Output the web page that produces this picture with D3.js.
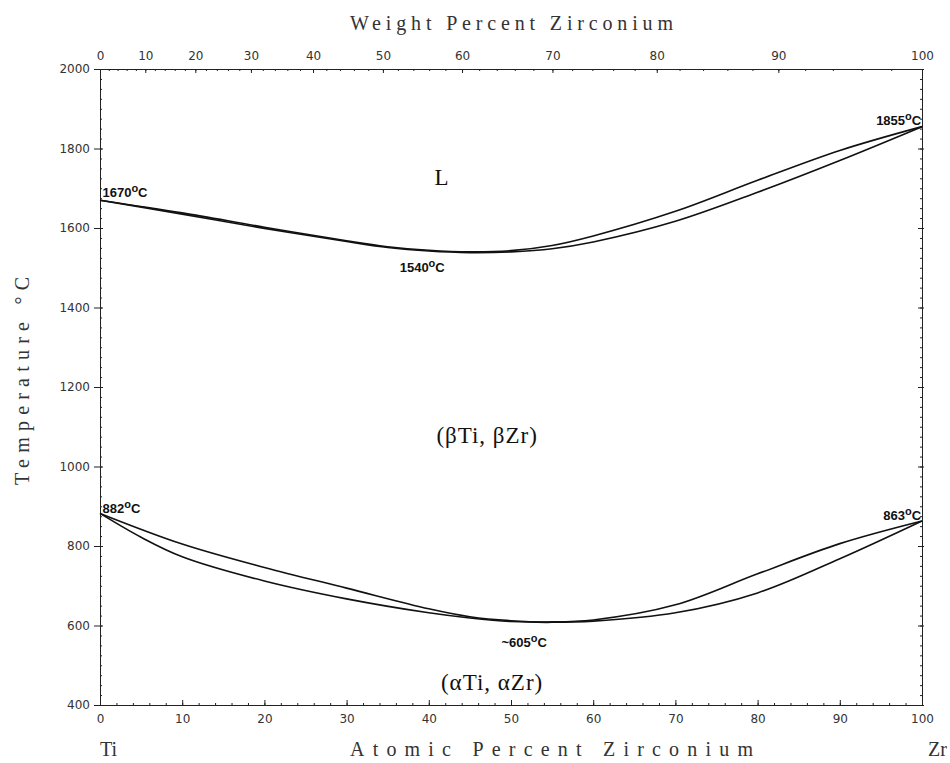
<!DOCTYPE html>
<meta charset='utf-8'>
<style>
body { margin: 0; background: #fff; }
svg { display: block; }
.axis path, .axis line { stroke: #222; }
.axis text { font-family: 'DejaVu Sans', sans-serif; font-size: 12px; fill: #333; }
.title { font-family: 'Liberation Serif', serif; font-size: 20px; fill: #333; }
.phase { font-family: 'Liberation Serif', serif; font-size: 23px; fill: #111; letter-spacing: 1px; }
.note { font-family: 'Liberation Sans', sans-serif; font-size: 13px; font-weight: bold; fill: #111; }
.curve { fill: none; stroke: #111; stroke-width: 1.6; }
</style>
<svg width='950' height='763'></svg>
<script src='https://d3js.org/d3.v7.min.js'></script>
<script>

// atomic percent Zr vs temperature (deg C)
var liqAt   = [0, 10, 20, 30, 35, 40, 45, 50, 55, 60, 70, 80, 90, 100];
var liqT    = [1670, 1638, 1602, 1568, 1553, 1544, 1540, 1543, 1556, 1580, 1642, 1720, 1795, 1855];
var solAt   = [0, 10, 20, 30, 35, 40, 45, 50, 55, 60, 70, 80, 90, 100];
var solT    = [1670, 1635, 1599, 1566, 1551, 1542, 1538, 1540, 1548, 1565, 1617, 1690, 1770, 1855];
var betaAt  = [0, 10, 20, 30, 40, 45, 50, 55, 60, 70, 80, 90, 100];
var betaT   = [882, 805, 746, 694, 642, 622, 612, 609, 614, 652, 730, 806, 863];
var alphaAt = [0, 5, 10, 20, 30, 40, 45, 50, 55, 60, 70, 80, 90, 100];
var alphaT  = [882, 822, 773, 712, 667, 632, 619, 610, 608, 611, 632, 682, 768, 863];

var atTicks = [0, 10, 20, 30, 40, 50, 60, 70, 80, 90, 100];
var wtTicks = [0, 10, 20, 30, 40, 50, 60, 70, 80, 90, 100];
var tTicks  = [400, 600, 800, 1000, 1200, 1400, 1600, 1800, 2000];

var labels = [
  {text: 'L', x: 41.6, t: 1708},
  {text: '(\u03b2Ti, \u03b2Zr)', x: 47.1, t: 1059},
  {text: '(\u03b1Ti, \u03b1Zr)', x: 47.7, t: 438}
];
var notes = [
  {num: '1670', x: 0.3, t: 1678, anchor: 'start'},
  {num: '1540', x: 39.2, t: 1489, anchor: 'middle'},
  {num: '1855', x: 99.9, t: 1859, anchor: 'end'},
  {num: '882', x: 0.3, t: 883, anchor: 'start'},
  {num: '863', x: 99.9, t: 865, anchor: 'end'},
  {num: '~605', x: 51.6, t: 546, anchor: 'middle'}
];

var svg = d3.select('svg'),
    x = d3.scaleLinear().domain([0, 100]).range([100, 922]),
    y = d3.scaleLinear().domain([400, 2000]).range([705, 69]);

// Zr 91.224, Ti 47.867
function wtToAt(w) {
  var a = w / 91.224, b = (100 - w) / 47.867;
  return w == 100 ? 100 : 100 * a / (a + b);
}

// minor ticks
function minor(axis, vals, size) {
  return axis.tickValues(vals).tickSize(size).tickFormat('');
}
svg.append('g').attr('class', 'axis').attr('transform', 'translate(0,705)')
  .call(minor(d3.axisTop(x), d3.range(0, 101, 2), 2));
svg.append('g').attr('class', 'axis').attr('transform', 'translate(0,69)')
  .call(minor(d3.axisBottom(x), d3.range(0, 101, 2).map(wtToAt), 2));
svg.append('g').attr('class', 'axis').attr('transform', 'translate(100,0)')
  .call(minor(d3.axisRight(y), d3.range(400, 2001, 25), 2));
svg.append('g').attr('class', 'axis').attr('transform', 'translate(922,0)')
  .call(minor(d3.axisLeft(y), d3.range(400, 2001, 25), 2));

// major axes
svg.append('g').attr('class', 'axis').attr('transform', 'translate(0,705)')
  .call(d3.axisBottom(x).tickValues(atTicks).tickSizeInner(-5).tickSizeOuter(0).tickPadding(9));
svg.append('g').attr('class', 'axis').attr('transform', 'translate(0,69)')
  .call(d3.axisTop(x).tickValues(wtTicks.map(wtToAt)).tickSizeInner(-4).tickSizeOuter(0).tickPadding(9)
    .tickFormat(function(d, i) { return wtTicks[i]; }));
var left = svg.append('g').attr('class', 'axis').attr('transform', 'translate(100,0)')
  .call(d3.axisLeft(y).tickValues(tTicks).tickSizeInner(6).tickSizeOuter(0).tickPadding(4)
    .tickFormat(d3.format('d')));
left.selectAll('.tick line').attr('x2', -6).attr('x1', 3);
var right = svg.append('g').attr('class', 'axis').attr('transform', 'translate(922,0)')
  .call(d3.axisRight(y).tickValues(tTicks).tickSizeInner(0).tickSizeOuter(0).tickFormat(''));
right.selectAll('.tick line').attr('x1', -4).attr('x2', 2);

// curves
var line = d3.line()
    .x(function(d) { return x(d[0]); })
    .y(function(d) { return y(d[1]); })
    .curve(d3.curveCatmullRom.alpha(0.5));

[[liqAt, liqT], [solAt, solT], [betaAt, betaT], [alphaAt, alphaT]].forEach(function(s) {
  svg.append('path').attr('class', 'curve')
    .attr('d', line(d3.zip(s[0], s[1])));
});

// titles
svg.append('text').attr('class', 'title').attr('x', 350).attr('y', 30)
  .attr('textLength', 323).attr('lengthAdjust', 'spacing').text('Weight Percent Zirconium');
svg.append('text').attr('class', 'title').attr('x', 350).attr('y', 756)
  .attr('textLength', 403).attr('lengthAdjust', 'spacing').text('Atomic Percent Zirconium');
svg.append('text').attr('class', 'title').attr('x', 100).attr('y', 756)
  .attr('text-anchor', 'start').text('Ti');
svg.append('text').attr('class', 'title').attr('x', 947).attr('y', 756)
  .attr('text-anchor', 'end').text('Zr');
svg.append('text').attr('class', 'title')
  .attr('transform', 'translate(29,485) rotate(-90)')
  .attr('textLength', 208).attr('lengthAdjust', 'spacing').text('Temperature \u00b0C');

svg.selectAll('.phaselbl').data(labels).enter().append('text')
  .attr('class', 'phase')
  .attr('x', function(d) { return x(d.x); })
  .attr('y', function(d) { return y(d.t); })
  .attr('text-anchor', 'middle')
  .text(function(d) { return d.text; });

var n = svg.selectAll('.notelbl').data(notes).enter().append('text')
  .attr('class', 'note')
  .attr('x', function(d) { return x(d.x); })
  .attr('y', function(d) { return y(d.t); })
  .attr('text-anchor', function(d) { return d.anchor; });
n.append('tspan').text(function(d) { return d.num; });
n.append('tspan').attr('dy', -5).attr('font-size', 11).text('o');
n.append('tspan').attr('dy', 5).text('C');

</script>
